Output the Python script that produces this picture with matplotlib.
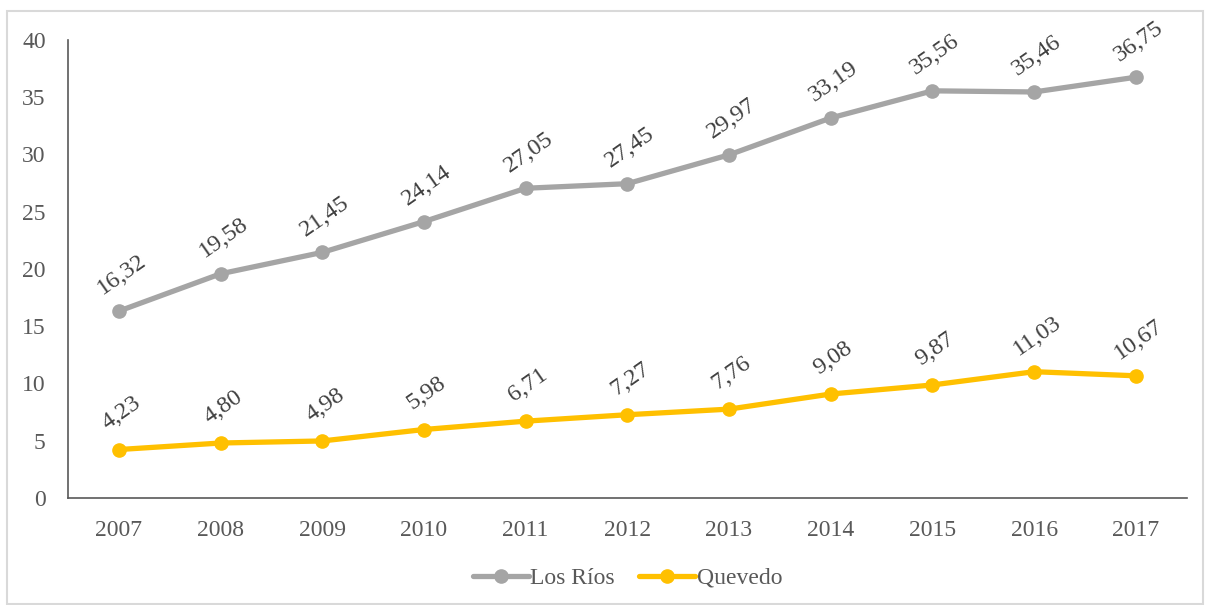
import matplotlib.pyplot as plt
from matplotlib.patches import Rectangle

# data
years = ['2007', '2008', '2009', '2010', '2011', '2012', '2013', '2014', '2015', '2016', '2017']
los_rios = [16.32, 19.58, 21.45, 24.14, 27.05, 27.45, 29.97, 33.19, 35.56, 35.46, 36.75]
quevedo = [4.23, 4.80, 4.98, 5.98, 6.71, 7.27, 7.76, 9.08, 9.87, 11.03, 10.67]

plt.rcParams['font.family'] = ['Liberation Serif', 'DejaVu Serif']

fig = plt.figure(figsize=(12.06, 6.05), dpi=100)
ax = fig.add_axes([0.0564, 0.1769, 0.9276, 0.757])

x = list(range(len(years)))
ax.plot(x, los_rios, color='#A5A5A5', lw=3.8, marker='o', ms=9.5, label='Los Ríos',
        solid_capstyle='round')
ax.plot(x, quevedo, color='#FFC000', lw=3.8, marker='o', ms=9.5, label='Quevedo',
        solid_capstyle='round')

for xi, v in zip(x, los_rios):
    ax.annotate(f'{v:.2f}'.replace('.', ','), (xi, v), xytext=(2, 26),
                textcoords='offset points', ha='center', va='center',
                rotation=35, fontsize=17.5, color='#404040')
for xi, v in zip(x, quevedo):
    ax.annotate(f'{v:.2f}'.replace('.', ','), (xi, v), xytext=(2, 26),
                textcoords='offset points', ha='center', va='center',
                rotation=35, fontsize=17.5, color='#404040')

ax.set_xlim(-0.5, len(years) - 0.5)
ax.set_ylim(0, 40)
ax.set_yticks(range(0, 41, 5))
ax.set_xticks(x)
ax.set_xticklabels(years)
ax.tick_params(length=0, labelsize=17, labelcolor='#595959', pad=16)
ax.tick_params(axis='y', pad=16)
for side in ['top', 'right']:
    ax.spines[side].set_visible(False)
for side in ['left', 'bottom']:
    ax.spines[side].set_color('#595959')
    ax.spines[side].set_linewidth(1.2)

leg = ax.legend(loc='center', bbox_to_anchor=(0.5, -0.175), ncol=2, frameon=False,
                fontsize=17, labelcolor='#595959', handlelength=2.4,
                handletextpad=0.05, columnspacing=1.0)

fig.patches.append(Rectangle((7 / 1206, 0.002), 1196 / 1206, 1 - 11 / 605 - 0.002,
                             transform=fig.transFigure, fill=False,
                             edgecolor='#D9D9D9', lw=1.5))

fig.savefig('out.png', dpi=100)
